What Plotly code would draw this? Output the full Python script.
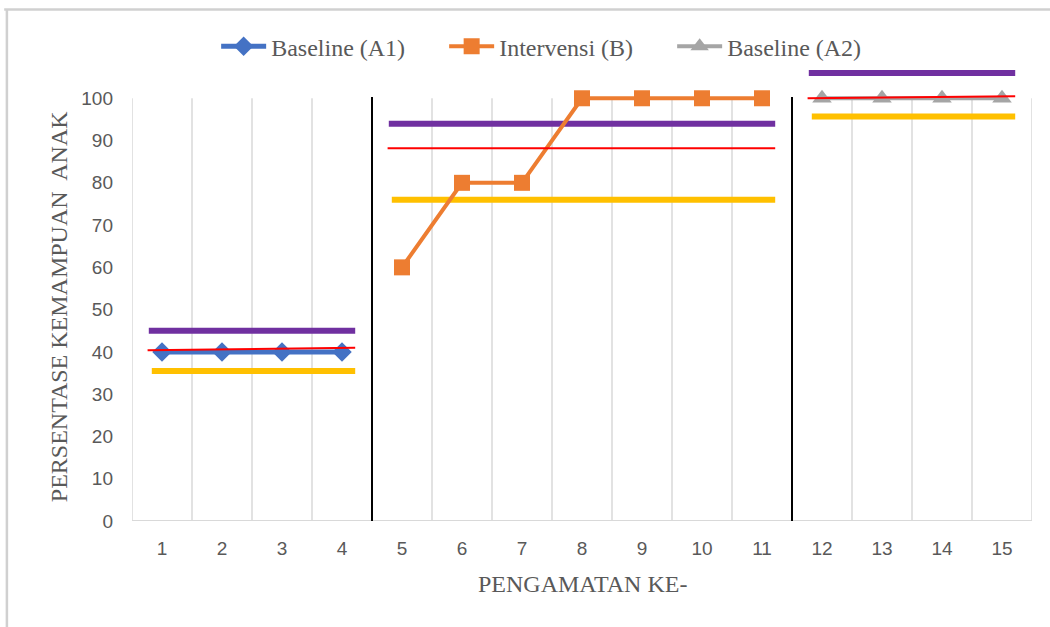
import plotly.graph_objects as go

# Observation sessions and scores per phase
sessions_a1 = [1, 2, 3, 4]
scores_a1 = [40, 40, 40, 40]
sessions_b = [5, 6, 7, 8, 9, 10, 11]
scores_b = [60, 80, 80, 100, 100, 100, 100]
sessions_a2 = [12, 13, 14, 15]
scores_a2 = [100, 100, 100, 100]

# Stability band (upper / lower) and trend line per phase
phase_first = [1, 5, 12]
phase_last = [4, 11, 15]
band_upper = [45, 94, 106]
band_lower = [35.5, 76, 95.7]
trend_start = [40.4, 88.2, 100]
trend_end = [41, 88.2, 100.5]

# Phase change positions
phase_breaks = [4.5, 11.5]

x_ticks = list(range(1, 16))
y_ticks = [0, 10, 20, 30, 40, 50, 60, 70, 80, 90, 100]

SERIF = "Liberation Serif, Times New Roman, serif"
SANS = "Liberation Sans, Arial, sans-serif"
GREY_TEXT = "#595959"

fig = go.Figure()

# Band lines
pad = 0.22
for i in range(3):
    x0, x1 = phase_first[i] - pad, phase_last[i] + pad
    fig.add_trace(go.Scatter(x=[x0, x1], y=[band_upper[i]] * 2, mode="lines",
                             line=dict(color="#7030A0", width=6), showlegend=False,
                             hoverinfo="skip"))
    fig.add_trace(go.Scatter(x=[x0 + 0.05, x1], y=[band_lower[i]] * 2, mode="lines",
                             line=dict(color="#FFC000", width=6), showlegend=False,
                             hoverinfo="skip"))

# Data series
fig.add_trace(go.Scatter(x=sessions_a1, y=scores_a1, mode="lines+markers", name="Baseline (A1)",
                         line=dict(color="#4472C4", width=5),
                         marker=dict(symbol="diamond", size=15, color="#4472C4")))
fig.add_trace(go.Scatter(x=sessions_b, y=scores_b, mode="lines+markers", name="Intervensi (B)",
                         line=dict(color="#ED7D31", width=4),
                         marker=dict(symbol="square", size=16, color="#ED7D31")))
fig.add_trace(go.Scatter(x=sessions_a2, y=scores_a2, mode="lines+markers", name="Baseline (A2)",
                         line=dict(color="#A5A5A5", width=4),
                         marker=dict(symbol="triangle-up", size=17, color="#A5A5A5")))

# Trend lines on top
for i in range(3):
    x0, x1 = phase_first[i] - pad - 0.02, phase_last[i] + pad
    fig.add_trace(go.Scatter(x=[x0, x1], y=[trend_start[i], trend_end[i]], mode="lines",
                             line=dict(color="#FF0000", width=2), showlegend=False,
                             hoverinfo="skip"))

shapes = []
# Vertical category gridlines
for k in range(16):
    xv = 0.5 + k
    shapes.append(dict(type="line", xref="x", yref="y", x0=xv, x1=xv, y0=0, y1=100,
                       line=dict(color="#D9D9D9", width=1.5), layer="below"))
# Category axis line
shapes.append(dict(type="line", xref="x", yref="y", x0=0.5, x1=15.5, y0=0, y1=0,
                   line=dict(color="#D9D9D9", width=2), layer="below"))
# Phase change lines
for xb in phase_breaks:
    shapes.append(dict(type="line", xref="x", yref="y", x0=xb, x1=xb, y0=0, y1=100.3,
                       line=dict(color="black", width=2)))
# Chart area border (top and left)
shapes.append(dict(type="line", xref="paper", yref="paper", x0=-0.142, x1=1.03, y0=1.1, y1=1.1,
                   line=dict(color="#D0D0D0", width=2.5)))
shapes.append(dict(type="line", xref="paper", yref="paper", x0=-0.139, x1=-0.139, y0=1.1, y1=-0.25,
                   line=dict(color="#D0D0D0", width=2.5)))

fig.update_layout(
    width=1050, height=627,
    margin=dict(l=132, r=18, t=56, b=106),
    paper_bgcolor="white", plot_bgcolor="white",
    shapes=shapes,
    showlegend=True,
    legend=dict(orientation="h", x=0.0935, xanchor="left", y=1.02, yanchor="middle",
                font=dict(family=SERIF, size=24, color=GREY_TEXT),
                entrywidth=168, entrywidthmode="pixels",
                itemwidth=45, tracegroupgap=0, bgcolor="rgba(0,0,0,0)"),
    xaxis=dict(range=[0.5, 15.5], tickmode="array", tickvals=x_ticks,
               ticktext=[str(v) for v in x_ticks], showgrid=False, zeroline=False,
               showline=False, ticks="", ticklabelstandoff=14,
               tickfont=dict(family=SANS, size=19, color=GREY_TEXT)),
    yaxis=dict(range=[0, 110], tickmode="array", tickvals=y_ticks,
               ticktext=[str(v) for v in y_ticks], showgrid=False, zeroline=False,
               showline=False, ticks="", ticklabelstandoff=18,
               tickfont=dict(family=SANS, size=19, color=GREY_TEXT)),
    annotations=[
        dict(text="PERSENTASE KEMAMPUAN  ANAK", xref="paper", yref="paper",
             x=-0.081, y=0.46, textangle=-90, showarrow=False,
             xanchor="center", yanchor="middle",
             font=dict(family=SERIF, size=24, color=GREY_TEXT)),
        dict(text="PENGAMATAN KE-", xref="paper", yref="paper",
             x=0.501, y=-0.135, showarrow=False, xanchor="center", yanchor="middle",
             font=dict(family=SERIF, size=24, color=GREY_TEXT)),
    ],
)

fig.write_html("out.html")
